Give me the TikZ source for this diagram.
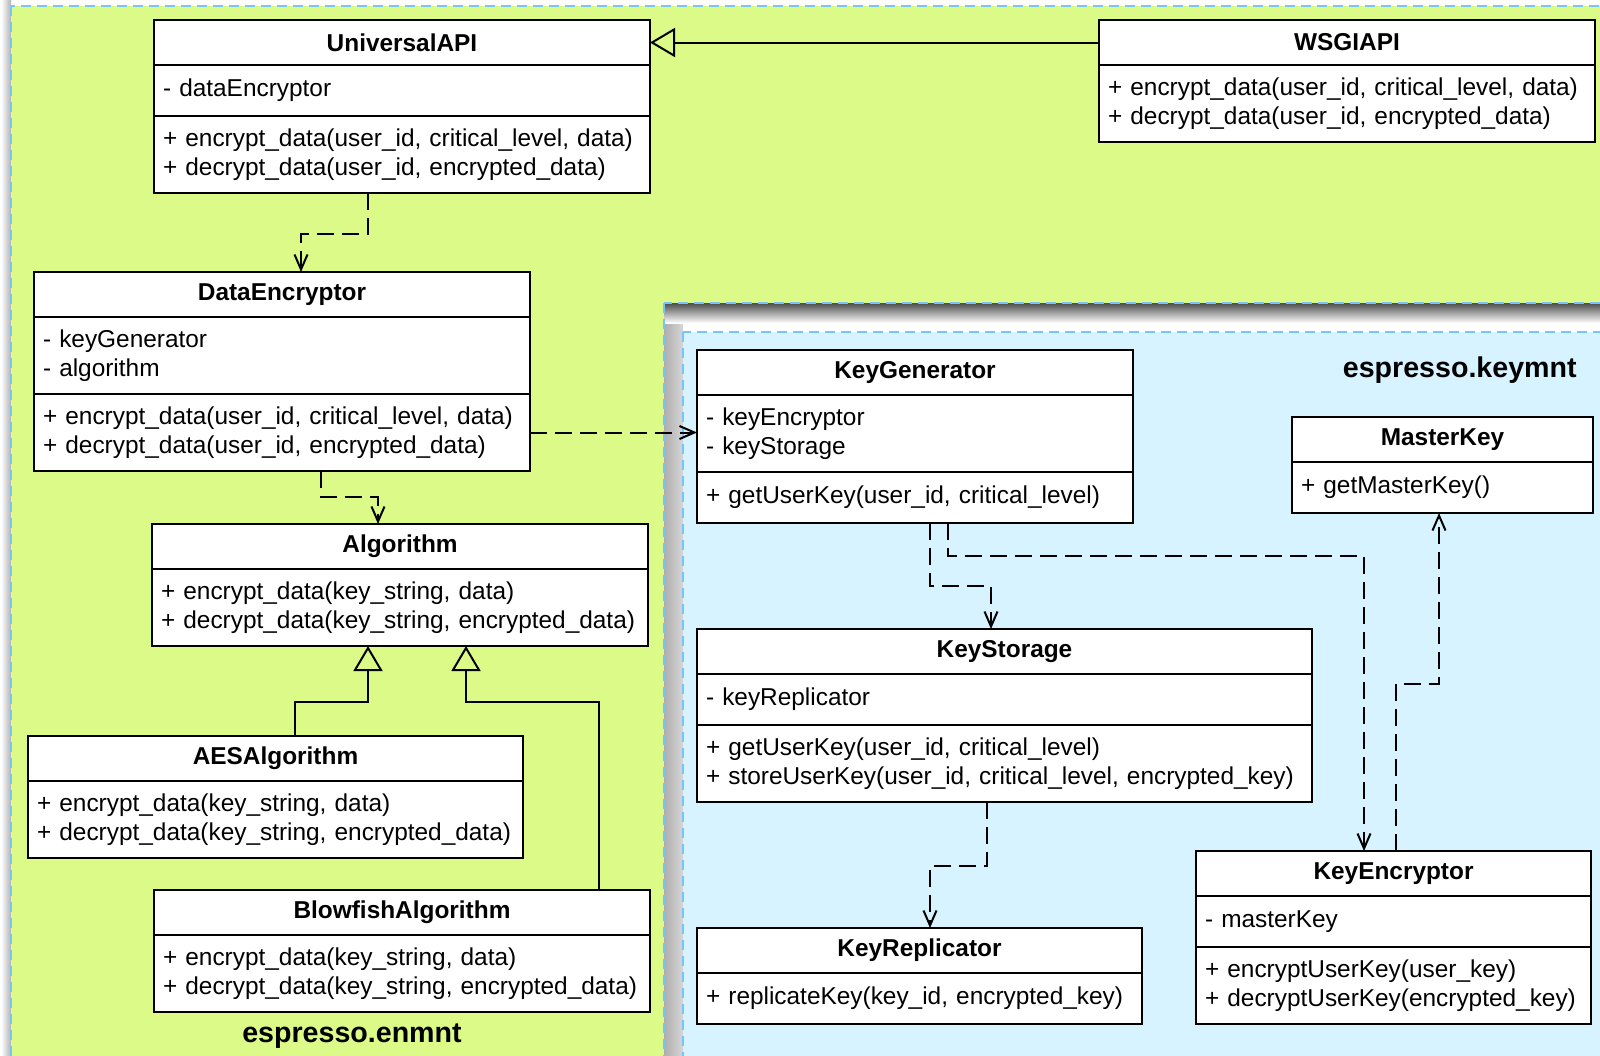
\documentclass[tikz,border=0pt]{standalone}
\usepackage{fontspec}
\setmainfont{Liberation Sans}
\usetikzlibrary{arrows.meta,positioning}

\definecolor{enmntgreen}{RGB}{219,250,136}
\definecolor{keymntblue}{RGB}{215,243,255}
\definecolor{pkgborder}{RGB}{120,196,250}

\begin{document}
\begin{tikzpicture}[
    x=0.5pt, y=-0.5pt,
    classhead/.style={draw, fill=white, line width=1pt, outer sep=0pt, anchor=north west, minimum width=#1, minimum height=22.5pt, inner sep=0pt, font=\bfseries\fontsize{12.2}{14.3}\selectfont},
    classpart/.style={draw, fill=white, line width=1pt, outer sep=0pt, text width=#1, inner xsep=4.5pt, inner ysep=2pt, align=left, minimum height=25.5pt, font=\fontsize{12.2}{14.3}\selectfont},
    twolines/.style={minimum height=38.5pt},
    package/.style={draw=pkgborder, line width=1pt, dash pattern=on 5pt off 3pt},
    pkglabel/.style={inner sep=0pt, font=\bfseries\fontsize{14.3}{17}\selectfont},
    dep/.style={-{Straight Barb[length=7.5pt, width=6.5pt]}, line width=1pt, dash pattern=on 8.5pt off 4pt},
    inherit/.style={-{Triangle[open, length=12.5pt, width=14.5pt]}, line width=1pt}
]
    \clip (0,0) rectangle (1600,1055);

    % espresso.enmnt package
    \shade[left color=white, right color=black!30] (1,0) rectangle (11,1055);
    \fill[enmntgreen] (11,6) rectangle (1610,1065);
    \draw[package] (11,6) rectangle (1610,1065);

    % espresso.keymnt package
    \shade[left color=black!32, right color=black!16] (664,303) rectangle (683,1065);
    \shade[top color=black!70, bottom color=white] (664,303) rectangle (1610,323);
    \fill[white] (683,323) rectangle (1610,332);
    \draw[package] (664,303) rectangle (1610,1065);
    \fill[keymntblue] (683,332) rectangle (1610,1065);
    \draw[package] (683,332) rectangle (1610,1065);

    % UniversalAPI
    \node[classhead=248pt] (uapi) at (154,20) {UniversalAPI};
    \node[classpart=239pt, below=0pt of uapi] (uapiattr) {- dataEncryptor};
    \node[classpart=239pt, twolines, below=0pt of uapiattr] (uapiops) {+ encrypt\_data(user\_id, critical\_level, data)\\+ decrypt\_data(user\_id, encrypted\_data)};

    % WSGIAPI
    \node[classhead=248pt] (wsgi) at (1099,20) {WSGIAPI};
    \node[classpart=239pt, twolines, below=0pt of wsgi] (wsgiops) {+ encrypt\_data(user\_id, critical\_level, data)\\+ decrypt\_data(user\_id, encrypted\_data)};

    % DataEncryptor
    \node[classhead=248pt] (denc) at (34,272) {DataEncryptor};
    \node[classpart=239pt, twolines, below=0pt of denc] (dencattr) {- keyGenerator\\- algorithm};
    \node[classpart=239pt, twolines, below=0pt of dencattr] (dencops) {+ encrypt\_data(user\_id, critical\_level, data)\\+ decrypt\_data(user\_id, encrypted\_data)};

    % Algorithm
    \node[classhead=248pt] (algo) at (152,524) {Algorithm};
    \node[classpart=239pt, twolines, below=0pt of algo] (algoops) {+ encrypt\_data(key\_string, data)\\+ decrypt\_data(key\_string, encrypted\_data)};

    % AESAlgorithm
    \node[classhead=247.5pt] (aes) at (28,736) {AESAlgorithm};
    \node[classpart=238.5pt, twolines, below=0pt of aes] (aesops) {+ encrypt\_data(key\_string, data)\\+ decrypt\_data(key\_string, encrypted\_data)};

    % BlowfishAlgorithm
    \node[classhead=248pt] (blow) at (154,890) {BlowfishAlgorithm};
    \node[classpart=239pt, twolines, below=0pt of blow] (blowops) {+ encrypt\_data(key\_string, data)\\+ decrypt\_data(key\_string, encrypted\_data)};

    % KeyGenerator
    \node[classhead=218pt] (kgen) at (697,350) {KeyGenerator};
    \node[classpart=209pt, twolines, below=0pt of kgen] (kgenattr) {- keyEncryptor\\- keyStorage};
    \node[classpart=209pt, below=0pt of kgenattr] (kgenops) {+ getUserKey(user\_id, critical\_level)};

    % MasterKey
    \node[classhead=150.5pt] (mkey) at (1292,417) {MasterKey};
    \node[classpart=141.5pt, below=0pt of mkey] (mkeyops) {+ getMasterKey()};

    % KeyStorage
    \node[classhead=307.5pt] (kstore) at (697,629) {KeyStorage};
    \node[classpart=298.5pt, below=0pt of kstore] (kstoreattr) {- keyReplicator};
    \node[classpart=298.5pt, twolines, below=0pt of kstoreattr] (kstoreops) {+ getUserKey(user\_id, critical\_level)\\+ storeUserKey(user\_id, critical\_level, encrypted\_key)};

    % KeyReplicator
    \node[classhead=222.5pt] (krep) at (697,928) {KeyReplicator};
    \node[classpart=213.5pt, below=0pt of krep] (krepops) {+ replicateKey(key\_id, encrypted\_key)};

    % KeyEncryptor
    \node[classhead=197.5pt] (kenc) at (1196,851) {KeyEncryptor};
    \node[classpart=188.5pt, below=0pt of kenc] (kencattr) {- masterKey};
    \node[classpart=188.5pt, twolines, below=0pt of kencattr] (kencops) {+ encryptUserKey(user\_key)\\+ decryptUserKey(encrypted\_key)};

    % Dependencies
    \draw[dep] ([xshift=-17pt]uapiops.south) -- ++(0,41) -| ([xshift=9.5pt]denc.north);
    \draw[dep] ([xshift=19.5pt]dencops.south) -- ++(0,26) -| ([xshift=-11pt]algo.north);
    \draw[dep] (dencops.east) -- (dencops.east -| kgenattr.west);
    \draw[dep] ([xshift=7.5pt]kgenops.south) -- ++(0,63) -| ([xshift=-6.75pt]kstore.north);
    \draw[dep] ([xshift=16.5pt]kgenops.south) -- ++(0,33) -| ([xshift=-14.75pt]kenc.north);
    \draw[dep] ([xshift=-8.75pt]kstoreops.south) -- ++(0,64) -| ([xshift=5.25pt]krep.north);
    \draw[dep] ([xshift=1.25pt]kenc.north) -- ++(0,-167) -| ([xshift=-1.75pt]mkeyops.south);

    % Generalisations
    \draw[inherit] (wsgi.west) -- (uapi.east);
    \draw[inherit] ([xshift=9.75pt]aes.north) -- ++(0,-34) -| ([xshift=-16pt]algoops.south);
    \draw[inherit] ([xshift=98.5pt]blow.north) -- ++(0,-188) -| ([xshift=33pt]algoops.south);

    % Package labels
    \node[pkglabel, anchor=base] (enmntname) at (352,1042) {espresso.enmnt};
    \node[pkglabel, anchor=base east] (keymntname) at (1577,377) {espresso.keymnt};
\end{tikzpicture}
\end{document}
